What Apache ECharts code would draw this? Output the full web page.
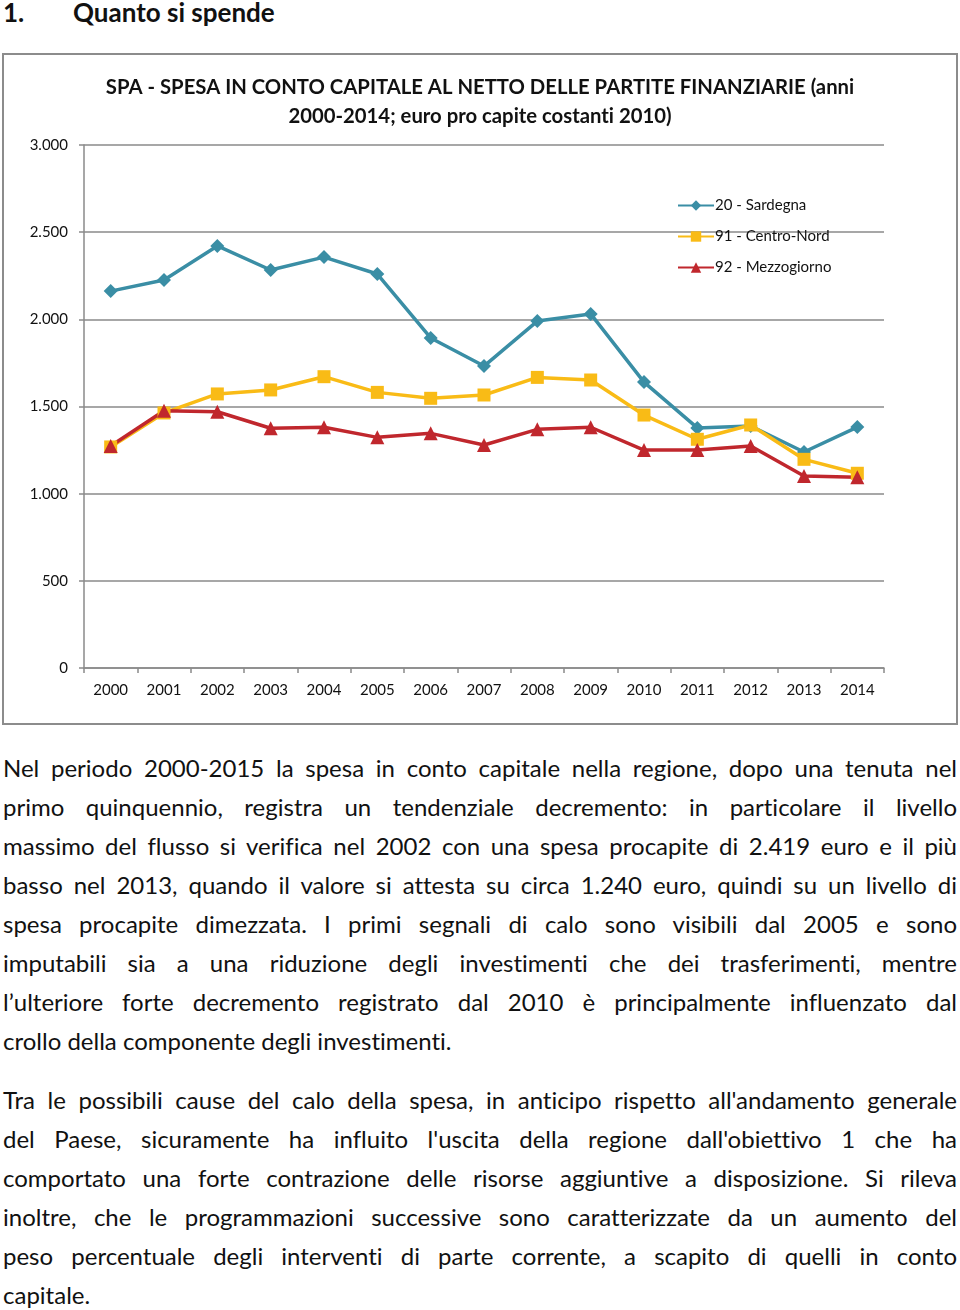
<!DOCTYPE html>
<html><head><meta charset="utf-8">
<script src="https://cdn.jsdelivr.net/npm/echarts@6/dist/echarts.min.js"></script>
<style>
body{margin:0;width:960px;height:1310px;background:#fff;font-family:Lato,'Open Sans',sans-serif;color:#111;position:relative;overflow:hidden;font-variant-ligatures:none}
#chart{position:absolute;left:0;top:0;width:960px;height:730px}
.h{position:absolute;top:-3px;font-weight:bold;font-size:26px;line-height:30px;white-space:nowrap}
.ln{position:absolute;left:3px;white-space:nowrap;font-size:24px;line-height:30px}
</style></head><body>
<div class="h" style="left:3px">1.</div>
<div class="h" style="left:73px">Quanto si spende</div>
<div id="chart"></div>
<div id="text"></div>
<script>
const years = ['2000','2001','2002','2003','2004','2005','2006','2007','2008','2009','2010','2011','2012','2013','2014'];
const sardegna = [2162,2226,2421,2283,2357,2260,1893,1732,1990,2031,1640,1377,1388,1239,1382];
const centroNord = [1268,1463,1572,1595,1671,1581,1547,1566,1667,1652,1451,1312,1394,1197,1117];
const mezzogiorno = [1273,1476,1470,1375,1381,1323,1346,1279,1369,1381,1250,1250,1273,1101,1094];
const seriesNames = ['20 - Sardegna','91 - Centro-Nord','92 - Mezzogiorno'];
const chartTitle = 'SPA - SPESA IN CONTO CAPITALE AL NETTO DELLE PARTITE FINANZIARIE (anni\n2000-2014; euro pro capite costanti 2010)';
const para1 = [
 'Nel periodo 2000-2015 la spesa in conto capitale nella regione, dopo una tenuta nel',
 'primo quinquennio, registra un tendenziale decremento: in particolare il livello',
 'massimo del flusso si verifica nel 2002 con una spesa procapite di 2.419 euro e il più',
 'basso nel 2013, quando il valore si attesta su circa 1.240 euro, quindi su un livello di',
 'spesa procapite dimezzata. I primi segnali di calo sono visibili dal 2005 e sono',
 'imputabili sia a una riduzione degli investimenti che dei trasferimenti, mentre',
 'l’ulteriore forte decremento registrato dal 2010 è principalmente influenzato dal',
 'crollo della componente degli investimenti.'
];
const para2 = [
 "Tra le possibili cause del calo della spesa, in anticipo rispetto all'andamento generale",
 "del Paese, sicuramente ha influito l'uscita della regione dall'obiettivo 1 che ha",
 "comportato una forte contrazione delle risorse aggiuntive a disposizione. Si rileva",
 "inoltre, che le programmazioni successive sono caratterizzate da un aumento del",
 "peso percentuale degli interventi di parte corrente, a scapito di quelli in conto",
 "capitale."
];

// paragraphs
const txt = document.getElementById('text');
function addPara(lines, y0) {
  lines.forEach((s, i) => {
    const d = document.createElement('div');
    d.className = 'ln';
    d.textContent = s;
    d.style.top = (y0 + i * 39 - 15) + 'px';
    txt.appendChild(d);
    if (i < lines.length - 1) {
      const w = d.getBoundingClientRect().width;
      const gaps = (s.match(/ /g) || []).length;
      if (gaps) d.style.wordSpacing = ((954 - w) / gaps) + 'px';
    }
  });
}
addPara(para1, 768);
addPara(para2, 1100);

const grey = '#8a8a8a';
const chart = echarts.init(document.getElementById('chart'));
chart.setOption({
  animation: false,
  textStyle: { fontFamily: 'Lato, "Open Sans", sans-serif' },
  title: {
    text: chartTitle, left: 475, top: 68, textAlign: 'center',
    textStyle: { fontSize: 20.3, fontWeight: 'bold', color: '#111', lineHeight: 29 }
  },
  graphic: [{ type: 'rect', shape: { x: 3, y: 54, width: 954, height: 670 },
    style: { fill: 'none', stroke: '#8c8c8c', lineWidth: 2 }, silent: true }],
  legend: {
    orient: 'vertical', left: 672, top: 193, itemWidth: 36, itemHeight: 13, itemGap: 16,
    textStyle: { fontSize: 15, color: '#111', padding: [0, 0, 0, -4] },
    data: seriesNames
  },
  grid: { left: 84, right: 76, top: 145, bottom: 62, containLabel: false },
  xAxis: {
    type: 'category', data: years, boundaryGap: true,
    axisLine: { lineStyle: { color: grey, width: 1.5 } },
    axisTick: { show: true, length: 5, interval: 0, lineStyle: { color: grey, width: 1.5 } },
    axisLabel: { fontSize: 15, color: '#111', margin: 15, interval: 0 }
  },
  yAxis: {
    type: 'value', min: 0, max: 3000, interval: 500,
    axisLine: { show: true, lineStyle: { color: grey, width: 1.5 } },
    axisTick: { show: true, length: 5, lineStyle: { color: grey, width: 1.5 } },
    splitLine: { lineStyle: { color: grey, width: 1.5 } },
    axisLabel: { fontSize: 15, color: '#111', margin: 16,
      formatter: v => v >= 1000 ? Math.floor(v/1000) + '.' + String(v % 1000).padStart(3,'0') : String(v) }
  },
  series: [
    { name: seriesNames[0], type: 'line', data: sardegna, symbol: 'diamond', symbolSize: 14,
      lineStyle: { color: '#3a8ea5', width: 3.5 }, itemStyle: { color: '#3a8ea5' } },
    { name: seriesNames[1], type: 'line', data: centroNord, symbol: 'rect', symbolSize: 13,
      lineStyle: { color: '#f9bb16', width: 3.5 }, itemStyle: { color: '#f9bb16' } },
    { name: seriesNames[2], type: 'line', data: mezzogiorno, symbol: 'triangle', symbolSize: 14,
      lineStyle: { color: '#c0272d', width: 3.5 }, itemStyle: { color: '#c0272d' } }
  ]
});
</script>
</body></html>
